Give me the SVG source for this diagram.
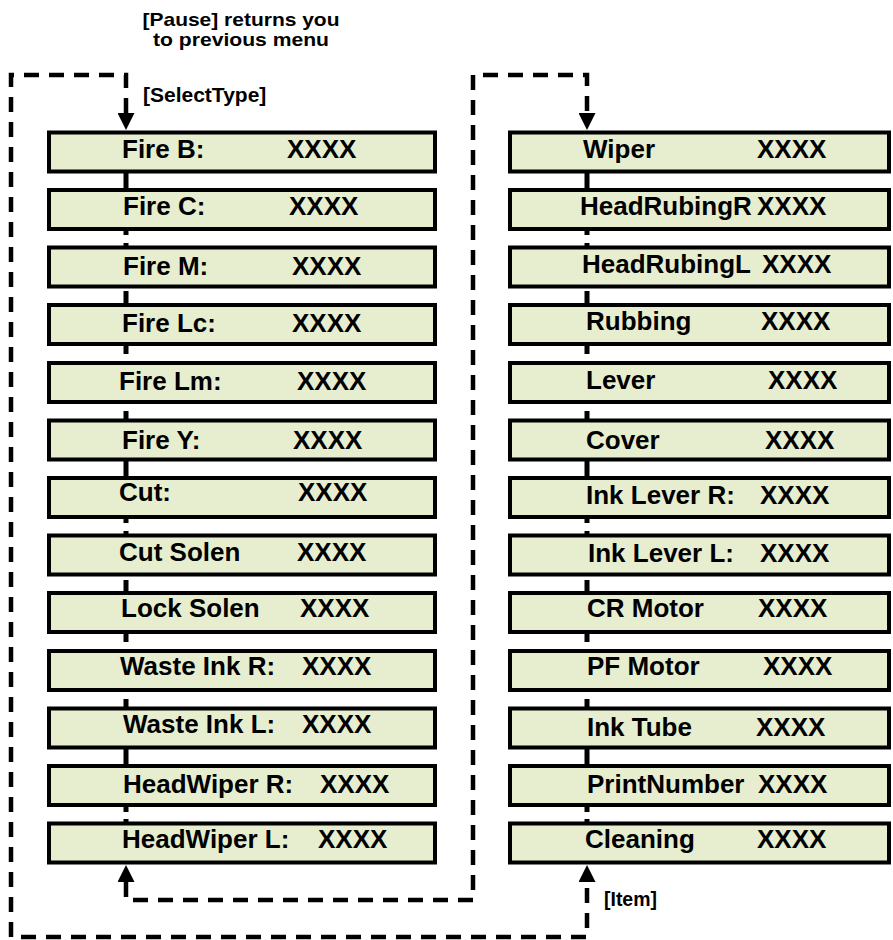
<svg xmlns="http://www.w3.org/2000/svg" width="893" height="940" viewBox="0 0 893 940">
<style>
.box{fill:#E6EECF;stroke:#000;stroke-width:4}
.t{font-family:"Liberation Sans",Arial,sans-serif;font-weight:bold;font-size:26px;fill:#000}
.lbl{font-family:"Liberation Sans",Arial,sans-serif;font-weight:bold;font-size:21px;fill:#000}
.hdr{font-family:"Liberation Sans",Arial,sans-serif;font-weight:bold;font-size:18.5px;fill:#000}
.loop{fill:none;stroke:#000;stroke-width:4.5;stroke-dasharray:15 10;marker-start:url(#ahs);marker-end:url(#ah)}
.col{fill:none;stroke:#000;stroke-width:5}
</style>
<defs>
<marker id="ah" markerUnits="userSpaceOnUse" markerWidth="17" markerHeight="17" viewBox="0 0 17 17" refX="0" refY="8.5" orient="auto"><path d="M0,0 L17,8.5 L0,17 z" fill="#000"/></marker>
<marker id="ahs" markerUnits="userSpaceOnUse" markerWidth="17" markerHeight="17" viewBox="0 0 17 17" refX="0" refY="8.5" orient="auto-start-reverse"><path d="M0,0 L17,8.5 L0,17 z" fill="#000"/></marker>
</defs>
<text class="hdr" x="241" y="25.5" text-anchor="middle" textLength="197" lengthAdjust="spacingAndGlyphs">[Pause] returns you</text>
<text class="hdr" x="241" y="46" text-anchor="middle" textLength="176" lengthAdjust="spacingAndGlyphs">to previous menu</text>
<text class="lbl" x="143" y="102">[SelectType]</text>
<text class="lbl" x="604" y="906" textLength="53" lengthAdjust="spacingAndGlyphs">[Item]</text>
<g id="connectors">
<path class="loop" d="M126,113 L126,75 L11,75 L11,937 L587,937 L587,882"/>
<path class="loop" d="M126,882 L126,900 L473,900 L473,75 L587,75 L587,113"/>
<path class="col" d="M126,170V191 M126,228V235 M126,243V248 M126,291V306 M126,343V354 M126,411V421 M126,458V479 M126,516V523 M126,531V536 M126,580V594 M126,631V642 M126,699V709 M126,746V767 M126,804V812 M126,819V824"/>
<path class="col" d="M587,170V191 M587,228V235 M587,243V248 M587,291V306 M587,343V354 M587,411V421 M587,458V479 M587,516V523 M587,531V536 M587,580V594 M587,631V642 M587,699V709 M587,746V767 M587,804V812 M587,819V824"/>
</g>
<g id="fire-b"><rect class="box" x="49" y="132.5" width="386" height="39"/><text class="t" x="122" y="157.5">Fire B:</text><text class="t" x="287" y="157.5">XXXX</text></g>
<g id="fire-c"><rect class="box" x="49" y="190" width="386" height="39"/><text class="t" x="123" y="215">Fire C:</text><text class="t" x="289" y="215">XXXX</text></g>
<g id="fire-m"><rect class="box" x="49" y="247.5" width="386" height="39"/><text class="t" x="123" y="274.5">Fire M:</text><text class="t" x="292" y="274.5">XXXX</text></g>
<g id="fire-lc"><rect class="box" x="49" y="305" width="386" height="39"/><text class="t" x="122" y="332">Fire Lc:</text><text class="t" x="292" y="332">XXXX</text></g>
<g id="fire-lm"><rect class="box" x="49" y="363" width="386" height="39"/><text class="t" x="119" y="390">Fire Lm:</text><text class="t" x="297" y="390">XXXX</text></g>
<g id="fire-y"><rect class="box" x="49" y="420.5" width="386" height="39"/><text class="t" x="122" y="448.5">Fire Y:</text><text class="t" x="293" y="448.5">XXXX</text></g>
<g id="cut"><rect class="box" x="49" y="478" width="386" height="39"/><text class="t" x="119" y="501">Cut:</text><text class="t" x="298" y="501">XXXX</text></g>
<g id="cut-solen"><rect class="box" x="49" y="535.5" width="386" height="39"/><text class="t" x="119" y="561">Cut Solen</text><text class="t" x="297" y="561">XXXX</text></g>
<g id="lock-solen"><rect class="box" x="49" y="593" width="386" height="39"/><text class="t" x="121" y="617">Lock Solen</text><text class="t" x="300" y="617">XXXX</text></g>
<g id="waste-ink-r"><rect class="box" x="49" y="651" width="386" height="39"/><text class="t" x="120" y="675">Waste Ink R:</text><text class="t" x="302" y="675">XXXX</text></g>
<g id="waste-ink-l"><rect class="box" x="49" y="708.5" width="386" height="39"/><text class="t" x="123" y="732.5">Waste Ink L:</text><text class="t" x="302" y="732.5">XXXX</text></g>
<g id="headwiper-r"><rect class="box" x="49" y="766" width="386" height="39"/><text class="t" x="123" y="793">HeadWiper R:</text><text class="t" x="320" y="793">XXXX</text></g>
<g id="headwiper-l"><rect class="box" x="49" y="823.5" width="386" height="39"/><text class="t" x="122" y="847.5">HeadWiper L:</text><text class="t" x="318" y="847.5">XXXX</text></g>
<g id="wiper"><rect class="box" x="510" y="132.5" width="379" height="39"/><text class="t" x="583" y="157.5">Wiper</text><text class="t" x="757" y="157.5">XXXX</text></g>
<g id="headrubingr"><rect class="box" x="510" y="190" width="379" height="39"/><text class="t" x="580" y="215">HeadRubingR</text><text class="t" x="757" y="215">XXXX</text></g>
<g id="headrubingl"><rect class="box" x="510" y="247.5" width="379" height="39"/><text class="t" x="582" y="273">HeadRubingL</text><text class="t" x="762" y="273">XXXX</text></g>
<g id="rubbing"><rect class="box" x="510" y="305" width="379" height="39"/><text class="t" x="586" y="330">Rubbing</text><text class="t" x="761" y="330">XXXX</text></g>
<g id="lever"><rect class="box" x="510" y="363" width="379" height="39"/><text class="t" x="586" y="389">Lever</text><text class="t" x="768" y="389">XXXX</text></g>
<g id="cover"><rect class="box" x="510" y="420.5" width="379" height="39"/><text class="t" x="586" y="448.5">Cover</text><text class="t" x="765" y="448.5">XXXX</text></g>
<g id="ink-lever-r"><rect class="box" x="510" y="478" width="379" height="39"/><text class="t" x="586" y="504">Ink Lever R:</text><text class="t" x="760" y="504">XXXX</text></g>
<g id="ink-lever-l"><rect class="box" x="510" y="535.5" width="379" height="39"/><text class="t" x="588" y="561.5">Ink Lever L:</text><text class="t" x="760" y="561.5">XXXX</text></g>
<g id="cr-motor"><rect class="box" x="510" y="593" width="379" height="39"/><text class="t" x="587" y="617">CR Motor</text><text class="t" x="758" y="617">XXXX</text></g>
<g id="pf-motor"><rect class="box" x="510" y="651" width="379" height="39"/><text class="t" x="587" y="675">PF Motor</text><text class="t" x="763" y="675">XXXX</text></g>
<g id="ink-tube"><rect class="box" x="510" y="708.5" width="379" height="39"/><text class="t" x="587" y="735.5">Ink Tube</text><text class="t" x="756" y="735.5">XXXX</text></g>
<g id="printnumber"><rect class="box" x="510" y="766" width="379" height="39"/><text class="t" x="587" y="793">PrintNumber</text><text class="t" x="758" y="793">XXXX</text></g>
<g id="cleaning"><rect class="box" x="510" y="823.5" width="379" height="39"/><text class="t" x="585" y="847.5">Cleaning</text><text class="t" x="757" y="847.5">XXXX</text></g>
</svg>
